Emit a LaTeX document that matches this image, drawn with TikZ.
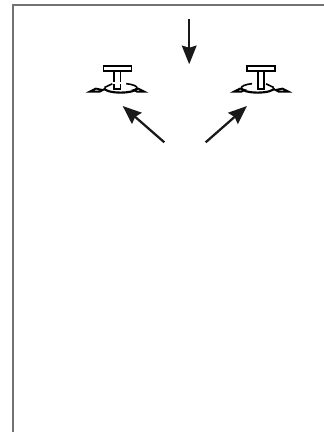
\documentclass[tikz,border=0pt]{standalone}
\usepackage{tikz}
\usetikzlibrary{arrows.meta}
\tikzset{
  frameline/.style={draw=black!55,line width=1.1pt},
  pointer/.style={draw=black!90,line width=1.7pt,-{Stealth[length=14pt,width=11pt,inset=1.6pt]}},
  part/.style={draw=black,line width=1.2pt,fill=white},
  valve/.pic={
    % disc
    \draw[line width=1.6pt] (19.8,0) arc[start angle=0,end angle=180,x radius=16.5,y radius=4.6];
    \draw[line width=1.2pt] (19.8,0) arc[start angle=360,end angle=290,x radius=16.5,y radius=4.6];
    \draw[line width=1.2pt] (-12.8,-.5) -- (-5,-4.2);
    % wings
    \draw[part,line width=1.4pt] (-27.5,3.6) -- (-21.5,.6) -- (-14.5,2) -- (-17.5,3.6) -- cycle;
    \draw[part,line width=1.4pt] (27,3.6) -- (21,.6) -- (16.5,2) -- (19.5,3.6) -- cycle;
    % stem and bar
    \draw[part] (-3.2,-17) rectangle (3.2,1.2);
    \draw[part] (-14,-22.3) rectangle (14,-17);
  }
}
\begin{document}
\begin{tikzpicture}[x=.75pt,y=-.75pt]
  \useasboundingbox (0,0) rectangle (324,432);
%Frame
  \coordinate (Fa) at (13,432);
  \coordinate (Fb) at (13,4.8);
  \coordinate (Fc) at (324,4.8);
  \draw[frameline] (Fa) -- (Fb) -- (Fc);
%Valves
  \pic (valveL) at (117.3,88) {valve};
  \pic[xscale=-1] (valveR) at (261,88) {valve};
  \draw[white,line width=1.6pt] (113.2,83.2) -- (121.4,83.2);
%Arrows
  \coordinate (Da) at (189.2,19);
  \coordinate (Db) at (189.2,64.3);
  \coordinate (La) at (164.3,142.3);
  \coordinate (Lb) at (122.7,106);
  \coordinate (Ra) at (205.7,142.3);
  \coordinate (Rb) at (247,106);
  \draw[pointer] (Da) -- (Db);
  \draw[pointer] (La) -- (Lb);
  \draw[pointer] (Ra) -- (Rb);
\end{tikzpicture}
\end{document}
